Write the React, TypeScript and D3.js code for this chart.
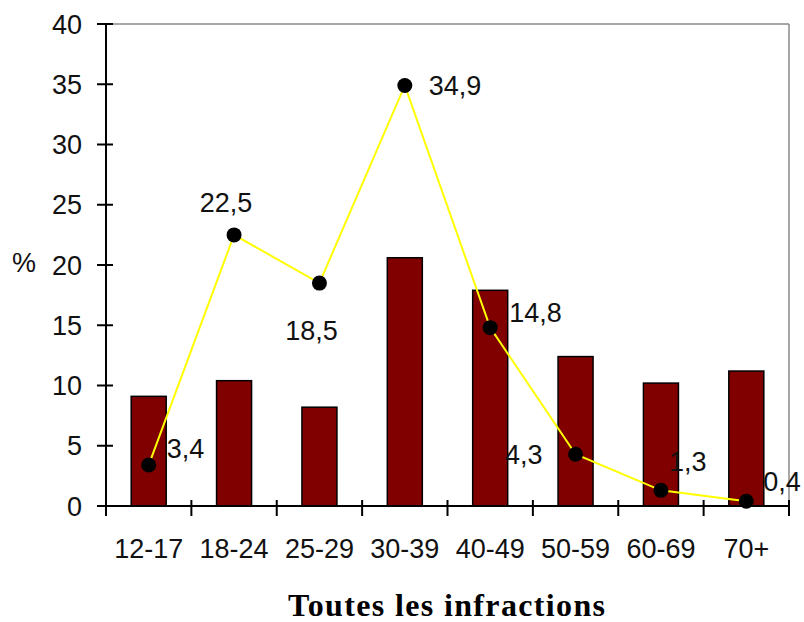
import React from "react";
import * as d3 from "d3";

const categories = ["12-17", "18-24", "25-29", "30-39", "40-49", "50-59", "60-69", "70+"];
const barValues = [9.1, 10.4, 8.2, 20.6, 17.9, 12.4, 10.2, 11.2];
const lineValues = [3.4, 22.5, 18.5, 34.9, 14.8, 4.3, 1.3, 0.4];
const lineLabels = ["3,4", "22,5", "18,5", "34,9", "14,8", "4,3", "1,3", "0,4"];
const yTicks = [0, 5, 10, 15, 20, 25, 30, 35, 40];
const xTitle = "Toutes les infractions";
const yTitle = "%";

// label placement relative to each point (dx, dy, anchor)
const labelOffsets: [number, number, string][] = [
  [18, -17, "start"],
  [-8, -33, "middle"],
  [-8, 47, "middle"],
  [24, 0, "start"],
  [19, -15, "start"],
  [-33, 0, "end"],
  [8, -29, "start"],
  [17, -20, "start"],
];

const W = 804;
const H = 622;
const left = 106;
const right = 789;
const top = 24;
const bottom = 506;

export default function App() {
  const x = d3
    .scaleBand<string>()
    .domain(categories)
    .range([left, right])
    .paddingInner(0.59)
    .paddingOuter(0.295);
  const xs = d3.scaleBand<string>().domain(categories).range([left, right]).padding(0);
  const y = d3.scaleLinear().domain([0, 40]).range([bottom, top]);

  const cx = (i: number) => (xs(categories[i]) as number) + xs.bandwidth() / 2;
  const line = d3
    .line<number>()
    .x((_, i) => cx(i))
    .y((d) => y(d));

  const font = "'Liberation Sans', Arial, sans-serif";
  const fs = 27;
  const boundaries = d3.range(categories.length + 1).map((k) => left + k * xs.step());

  return (
    <svg
      width={W}
      height={H}
      style={{ position: "absolute", left: 0, top: 0, background: "#fff" }}
    >
      <rect x={0} y={0} width={W} height={H} fill="#fff" />
      {/* plot border (grey) */}
      <line x1={left} x2={right} y1={top} y2={top} stroke="#8a8a8a" strokeWidth={1.5} />
      <line x1={right} x2={right} y1={top} y2={bottom} stroke="#8a8a8a" strokeWidth={1.5} />

      {/* bars */}
      {barValues.map((v, i) => (
        <rect
          key={i}
          x={x(categories[i])}
          y={y(v)}
          width={x.bandwidth()}
          height={y(0) - y(v)}
          fill="#800000"
          stroke="#000"
          strokeWidth={1.5}
        />
      ))}

      {/* axes */}
      <line x1={left} x2={left} y1={top} y2={bottom} stroke="#000" strokeWidth={2} />
      <line x1={left} x2={right} y1={bottom} y2={bottom} stroke="#000" strokeWidth={2} />
      {yTicks.map((t) => (
        <g key={t}>
          <line x1={left - 9} x2={left + 7} y1={y(t)} y2={y(t)} stroke="#000" strokeWidth={2} />
          <text
            x={82}
            y={y(t)}
            dy="0.36em"
            textAnchor="end"
            fontFamily={font}
            fontSize={fs}
            fill="#111"
          >
            {t}
          </text>
        </g>
      ))}
      {boundaries.map((b, k) => (
        <line key={k} x1={b} x2={b} y1={bottom - 6} y2={bottom + 10} stroke="#000" strokeWidth={2} />
      ))}
      {categories.map((c, i) => (
        <text
          key={c}
          x={cx(i)}
          y={558}
          textAnchor="middle"
          fontFamily={font}
          fontSize={fs}
          fill="#111"
        >
          {c}
        </text>
      ))}

      {/* line series */}
      <path d={line(lineValues) || ""} fill="none" stroke="#ffff00" strokeWidth={2} />
      {lineValues.map((v, i) => (
        <circle key={i} cx={cx(i)} cy={y(v)} r={7.5} fill="#000" />
      ))}
      {lineValues.map((v, i) => (
        <text
          key={i}
          x={cx(i) + labelOffsets[i][0]}
          y={y(v) + labelOffsets[i][1]}
          dy="0.36em"
          textAnchor={labelOffsets[i][2] as any}
          fontFamily={font}
          fontSize={fs}
          fill="#111"
        >
          {lineLabels[i]}
        </text>
      ))}

      {/* titles */}
      <text x={24} y={262} dy="0.36em" textAnchor="middle" fontFamily={font} fontSize={27} fill="#111">
        {yTitle}
      </text>
      <text
        x={288}
        y={616}
        textLength={317}
        lengthAdjust="spacing"
        fontFamily="'Liberation Serif', 'Times New Roman', serif"
        fontWeight="bold"
        fontSize={32}
        fill="#000"
      >
        {xTitle}
      </text>
    </svg>
  );
}
